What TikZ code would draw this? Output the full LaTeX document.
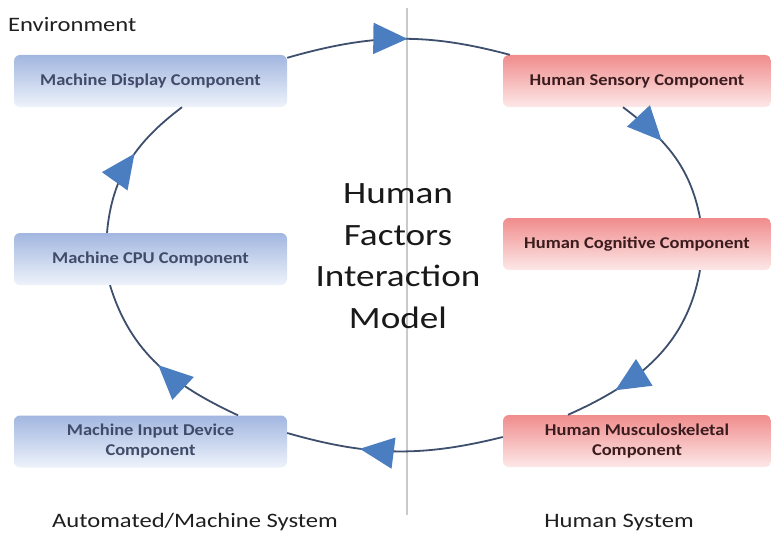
\documentclass[tikz,border=0pt]{standalone}
\usepackage{fontspec}
\setmainfont{Carlito}
\newfontfamily\widefont[FakeStretch=1.2]{Carlito}
\newfontfamily\titlefont[FakeStretch=1.2]{Carlito}
\newfontfamily\boxfont[FakeStretch=1.12]{Carlito}
\usetikzlibrary{arrows.meta,decorations.markings}
\definecolor{linec}{HTML}{3E4F6E}
\definecolor{arrc}{HTML}{4A7EC0}
\definecolor{mtop}{HTML}{A2B6E0}
\definecolor{mbot}{HTML}{EEF3FB}
\definecolor{htop}{HTML}{F08C8C}
\definecolor{hbot}{HTML}{FDE8E8}
\definecolor{mtext}{HTML}{3F4B68}
\definecolor{htext}{HTML}{3B1C1E}
\definecolor{divc}{HTML}{C8CACC}
\tikzset{
  mbox/.style={rounded corners=6pt, top color=mtop, bottom color=mbot, draw=none,
    minimum width=273pt, minimum height=52pt, text=mtext, align=center, inner sep=0pt,
    font=\boxfont\fontsize{16.5}{20}\selectfont\bfseries},
  hbox/.style={mbox, top color=htop, bottom color=hbot, minimum width=268pt, text=htext},
  flow/.style={draw=linec, line width=1.8pt},
  tipat/.style={postaction={decorate, decoration={markings,
    mark=at position #1 with {\arrow{Triangle[length=34pt,width=31pt,color=arrc]}}}}},
  lbl/.style={inner sep=0pt, text=black!88, font=\widefont\fontsize{20.5}{24}\selectfont}
}
\begin{document}
\begin{tikzpicture}[x=1pt,y=1pt]
\useasboundingbox[fill=white] (0,0) rectangle (771,-543);
% divider
\coordinate (dtop) at (407,-8);
\coordinate (dbot) at (407,-515);
\draw[divc, line width=1.2pt] (dtop) -- (dbot);
% labels
\node[lbl, anchor=base west] (env) at (8,-32) {Environment};
\node[lbl, anchor=base] (auto) at (195,-527) {Automated/Machine System};
\node[lbl, anchor=base] (hsys) at (619,-527) {Human System};
\node[inner sep=0pt, align=center, text=black!90, font=\titlefont\fontsize{31}{41.5}\selectfont] (title) at (398,-256) {Human\\Factors\\Interaction\\Model};
% boxes
\node[mbox] (disp) at (150.5,-81) {Machine Display Component};
\node[mbox] (cpu) at (150.5,-259) {Machine CPU Component};
\node[mbox] (inp) at (150.5,-441.5) {Machine Input Device\\Component};
\node[hbox] (sens) at (637,-81) {Human Sensory Component};
\node[hbox] (cog) at (637,-244) {Human Cognitive Component};
\node[hbox] (musc) at (637,-441) {Human Musculoskeletal\\Component};
% cycle
\draw[flow, tipat=0.54] ([yshift=-3pt]disp.north east) to[out=16,in=165] ([xshift=7pt]sens.north west);
\draw[flow, tipat=0.37] ([xshift=-14pt]sens.south) to[out=-37,in=101] ([xshift=63pt]cog.north);
\draw[flow, tipat=0.74] ([xshift=63pt]cog.south) to[out=-100,in=24] ([xshift=-69pt]musc.north);
\draw[flow, tipat=0.66] ([yshift=4pt]musc.west) to[out=194,in=-16] ([yshift=8.5pt]inp.east);
\draw[flow, tipat=0.5] ([xshift=87.5pt]inp.north) to[out=155,in=-73] ([xshift=-40.5pt]cpu.south);
\draw[flow, tipat=0.56] ([xshift=-43.5pt]cpu.north) to[out=85,in=217] ([xshift=31.5pt]disp.south);
\end{tikzpicture}
\end{document}
